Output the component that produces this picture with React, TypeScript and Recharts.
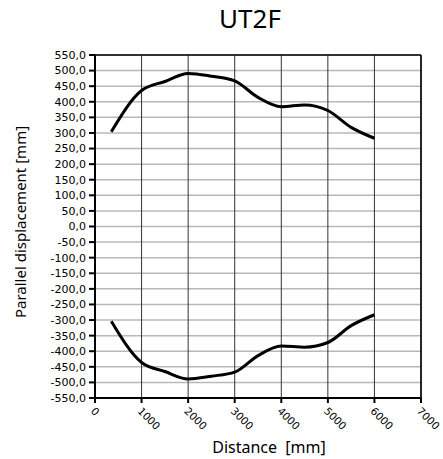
import { LineChart, Line, XAxis, YAxis, CartesianGrid, ReferenceLine, Label } from 'recharts';

const distance = [350, 1000, 1500, 2000, 2500, 3000, 3500, 4000, 4500, 5000, 5500, 6000];
const upper = [304, 436, 465, 491, 482, 467, 414, 384, 390, 372, 318, 283];
const lower = [-304, -436, -465, -489, -480, -467, -414, -383, -387, -372, -318, -283];

const xTicks = [0, 1000, 2000, 3000, 4000, 5000, 6000, 7000];
const yTicks = [
    -550, -500, -450, -400, -350, -300, -250, -200, -150, -100, -50, 0,
    50, 100, 150, 200, 250, 300, 350, 400, 450, 500, 550,
];

const upperData = distance.map((d, i) => ({ x: d, y: upper[i] }));
const lowerData = distance.map((d, i) => ({ x: d, y: lower[i] }));

const tickFont = '"DejaVu Sans", Verdana, sans-serif';
const titleFont = '"Noto Sans", "Open Sans", sans-serif';

function XTick(props: any) {
    const { x, y, payload } = props;
    return (
        <text
            x={0}
            y={0}
            transform={`translate(${x + 1},${y + 1}) rotate(45)`}
            fontSize={10.5}
            fontFamily={tickFont}
            fill="#000"
            textAnchor="start"
            dominantBaseline="hanging"
        >
            {payload.value}
        </text>
    );
}

export default function App() {
    return (
        <div style={{ position: 'absolute', left: 0, top: 0, width: 443, height: 459, background: '#fff' }}>
            <div
                style={{
                    position: 'absolute',
                    left: 150,
                    width: 200,
                    top: 5,
                    textAlign: 'center',
                    fontFamily: titleFont,
                    fontSize: 26,
                    lineHeight: '26px',
                }}
            >
                UT2F
            </div>
            <LineChart width={443} height={459} margin={{ top: 55, right: 22, bottom: 0, left: 0 }}>
                <CartesianGrid horizontal={true} vertical={false} stroke="#b8b8b8" strokeWidth={1.5} />
                <CartesianGrid horizontal={false} vertical={true} stroke="#333" strokeWidth={1} />
                <XAxis
                    type="number"
                    dataKey="x"
                    domain={[0, 7000]}
                    ticks={xTicks}
                    interval={0}
                    tick={<XTick />}
                    stroke="#000"
                    strokeWidth={2}
                    tickSize={5}
                    height={61}
                >
                    <Label
                        content={() => (
                            <text x={269} y={453} textAnchor="middle" fontSize={16} fontFamily={titleFont} fill="#000" xmlSpace="preserve">
                                Distance  [mm]
                            </text>
                        )}
                    />
                </XAxis>
                <YAxis
                    type="number"
                    dataKey="y"
                    domain={[-550, 550]}
                    ticks={yTicks}
                    interval={0}
                    width={95}
                    stroke="#000"
                    strokeWidth={2}
                    tickSize={6}
                    tickMargin={3}
                    tick={{ fontSize: 11, fontFamily: tickFont, fill: '#000' }}
                    tickFormatter={(v: number) => v.toFixed(1).replace('.', ',')}
                >
                    <Label
                        content={() => (
                            <text
                                x={0}
                                y={0}
                                transform="translate(26,222) rotate(-90)"
                                textAnchor="middle"
                                fontSize={15}
                                fontFamily={titleFont}
                                fill="#000"
                            >
                                Parallel displacement [mm]
                            </text>
                        )}
                    />
                </YAxis>
                <ReferenceLine y={550} stroke="#000" strokeWidth={1.5} />
                <ReferenceLine x={7000} stroke="#000" strokeWidth={1.5} />
                <Line data={upperData} dataKey="y" type="monotone" stroke="#000" strokeWidth={3} dot={false} isAnimationActive={false} />
                <Line data={lowerData} dataKey="y" type="monotone" stroke="#000" strokeWidth={3} dot={false} isAnimationActive={false} />
            </LineChart>
        </div>
    );
}
